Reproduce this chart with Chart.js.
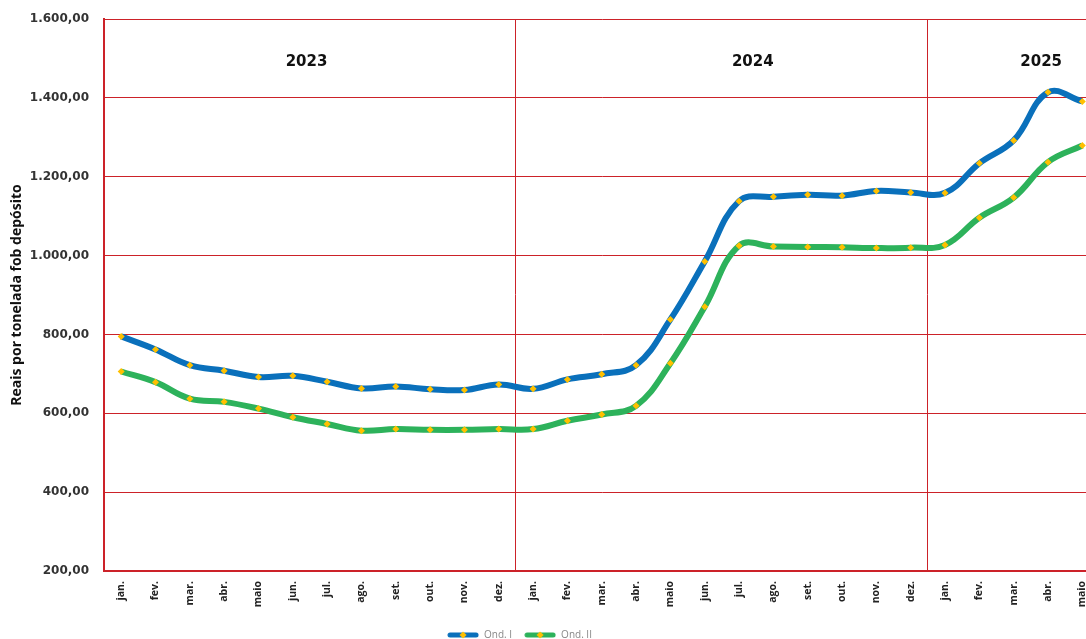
<!DOCTYPE html>
<html><head><meta charset="utf-8">
<script src="https://cdn.jsdelivr.net/npm/chart.js@4.4.1/dist/chart.umd.min.js"></script>
<style>
html,body{margin:0;padding:0;background:#fff;overflow:hidden;}
#wrap{width:1103px;height:639px;position:relative;}
</style></head>
<body><div id="wrap"><canvas id="c"></canvas></div>
<script>
const categories = ['jan.','fev.','mar.','abr.','maio','jun.','jul.','ago.','set.','out.','nov.','dez.',
  'jan.','fev.','mar.','abr.','maio','jun.','jul.','ago.','set.','out.','nov.','dez.',
  'jan.','fev.','mar.','abr.','maio'];
const ondI = [795,762,722,708,692,695,680,663,668,661,659,673,
  662,686,699,722,838,985,1138,1149,1154,1152,1164,1160,
  1159,1234,1292,1414,1391];
const ondII = [706,679,637,629,612,590,573,556,560,558,558,560,
  560,581,597,619,727,870,1025,1023,1022,1021,1019,1020,
  1027,1096,1147,1237,1279];
const yearLabels = ['2023','2024','2025'];
const yTicks = [200,400,600,800,1000,1200,1400,1600];

const RED = '#CC2229';
function fmt(v){
  const s = v.toFixed(2).split('.');
  return s[0].replace(/\B(?=(\d{3})+(?!\d))/g,'.') + ',' + s[1];
}
function legendImg(color){
  const c = document.createElement('canvas');
  c.width = 32; c.height = 8;
  const g = c.getContext('2d');
  g.strokeStyle = color; g.lineWidth = 5; g.lineCap = 'round';
  g.beginPath(); g.moveTo(3,4); g.lineTo(29,4); g.stroke();
  g.fillStyle = '#FFC000';
  g.beginPath(); g.moveTo(16,0.5); g.lineTo(19.5,4); g.lineTo(16,7.5); g.lineTo(12.5,4); g.closePath(); g.fill();
  return c;
}
const colors = ['#0A70BB','#2DB25B'];
const legendImgs = colors.map(legendImg);

const yearPlugin = {
  id:'years',
  afterLayout(chart){
    const lg = chart.legend;
    if(lg){ lg.left -= 31; lg.right -= 31; lg.top += 11; lg.bottom += 11; }
  },
  afterDatasetsDraw(chart){
    const {ctx, scales:{x,y}} = chart;
    const pos = [5.4, 18.4, 26.8];
    ctx.save();
    ctx.font = 'bold 15px "DejaVu Sans"';
    ctx.fillStyle = '#111';
    ctx.textAlign = 'center'; ctx.textBaseline = 'middle';
    yearLabels.forEach((t,i)=>{
      ctx.fillText(t, x.getPixelForValue(pos[i]), y.getPixelForValue(1490));
    });
    ctx.restore();
  }
};

new Chart(document.getElementById('c'), {
  type:'line',
  data:{
    labels: categories,
    datasets:[
      {label:'Ond. I', data: ondI, borderColor: colors[0], backgroundColor: colors[0], borderWidth:6,
       tension:0.4, pointStyle:'rectRot', pointRadius:3.5, pointBackgroundColor:'#FFC000', pointBorderWidth:0, pointHoverRadius:3.5},
      {label:'Ond. II', data: ondII, borderColor: colors[1], backgroundColor: colors[1], borderWidth:6,
       tension:0.4, pointStyle:'rectRot', pointRadius:3.5, pointBackgroundColor:'#FFC000', pointBorderWidth:0, pointHoverRadius:3.5}
    ]
  },
  options:{
    responsive:true, maintainAspectRatio:false, animation:false,
    layout:{padding:{top:19,right:2,left:0,bottom:0}},
    plugins:{
      tooltip:{enabled:false},
      legend:{position:'bottom',
        labels:{usePointStyle:true, pointStyleWidth:32, boxHeight:8, padding:12,
          color:'#888', font:{family:'"Open Sans"', size:10},
          generateLabels(chart){
            const items = Chart.defaults.plugins.legend.labels.generateLabels(chart);
            items.forEach((it,i)=>{ it.pointStyle = legendImgs[i]; });
            return items;
          }}}
    },
    scales:{
      x:{type:'category', offset:true,
        grid:{offset:true, drawTicks:false, lineWidth:1,
          color: c => (c.index===12 || c.index===24) ? RED : 'rgba(0,0,0,0)'},
        border:{color:RED, width:2},
        ticks:{maxRotation:90, minRotation:90, padding:10, color:'#222',
          font:{family:'"Open Sans"', weight:'bold', size:10.5}},
        afterFit(s){ s.height = 36; s.paddingLeft = 0; s.paddingRight = 0; }
      },
      y:{min:200, max:1600,
        afterBuildTicks(s){ s.ticks = yTicks.map(v=>({value:v})); },
        grid:{color:RED, lineWidth:1, drawTicks:false},
        border:{color:RED, width:2},
        ticks:{padding:15, color:'#333', font:{family:'"DejaVu Sans"', weight:'bold', size:12},
          callback:v=>fmt(v)},
        title:{display:true, text:'Reais por tonelada fob depósito', color:'#111',
          font:{family:'"Open Sans"', weight:'bold', size:14}, padding:{top:9,bottom:6}},
        afterFit(s){ s.width = 104; s.paddingTop = 0; s.paddingBottom = 0; }
      }
    }
  },
  plugins:[yearPlugin]
});
</script></body></html>
